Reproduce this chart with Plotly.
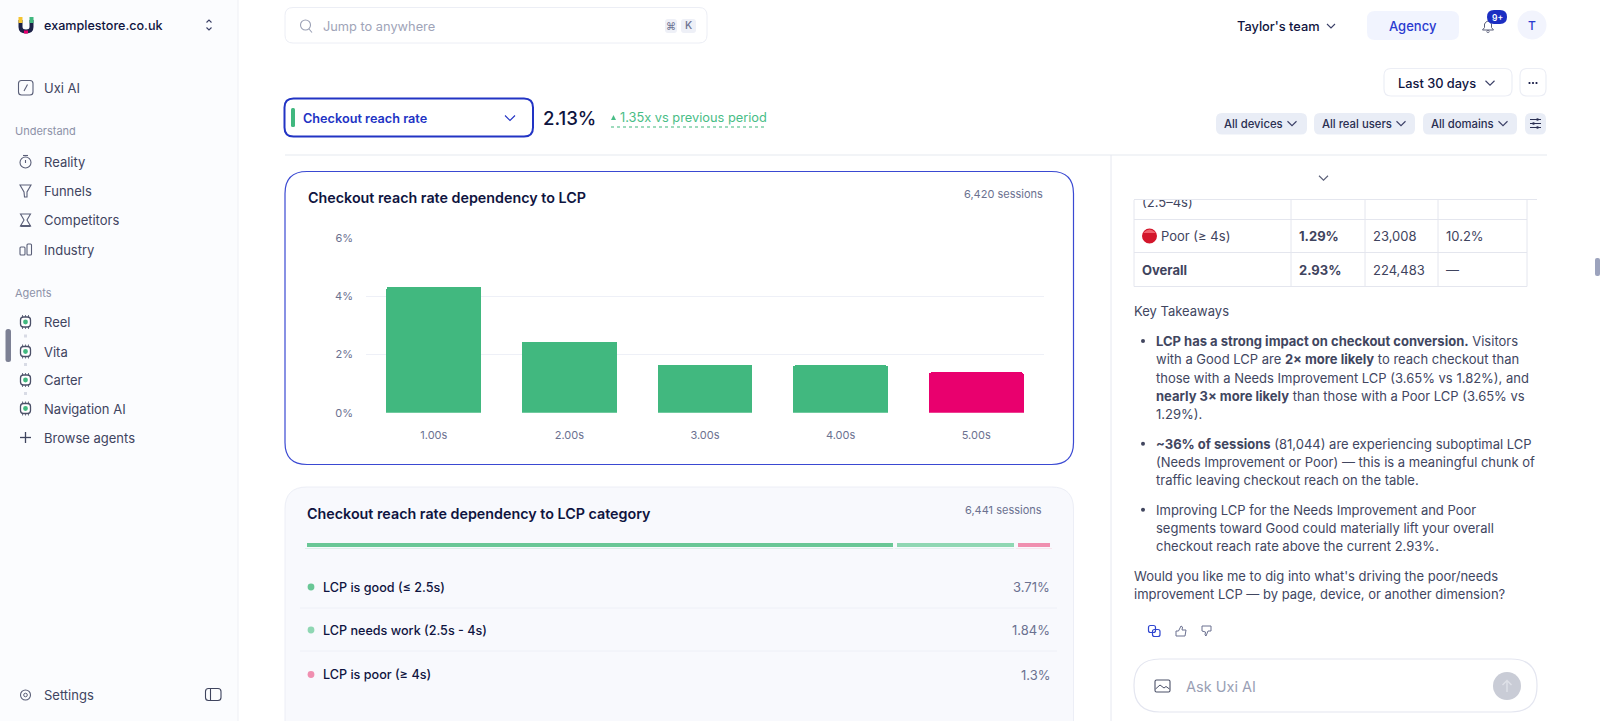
import plotly.graph_objects as go

# ---------- data ----------
lcp_seconds = ["1.00s", "2.00s", "3.00s", "4.00s", "5.00s"]
reach_rate = [4.31, 2.44, 1.64, 1.62, 1.38]
rate_ticks = [0, 2, 4, 6]
category_names = ["LCP is good (≤ 2.5s)", "LCP needs work (2.5s - 4s)", "LCP is poor (≥ 4s)"]
category_rates = ["3.71%", "1.84%", "1.3%"]
category_share = [79.0, 16.2, 4.8]

W, H = 1600, 721
FONT = "Inter"
NAVY = "#0f1440"
BODY = "#41465f"
MUTED = "#6b7190"
BLUE = "#2536c8"
GREEN = "#41b87f"
PINK = "#e9006e"
LINE = "#eceef5"

shapes, notes = [], []


def T(x, y, s, size=13, color=BODY, weight=400, anchor="left"):
    notes.append(dict(x=x, y=y, xref="x", yref="y", text=s, showarrow=False, xanchor=anchor,
                      yanchor="middle", align=anchor, borderpad=0, borderwidth=0,
                      font=dict(family=FONT, size=size, color=color, weight=weight)))


def rr(x0, y0, x1, y1, r):
    return (f"M{x0+r},{y0} L{x1-r},{y0} Q{x1},{y0} {x1},{y0+r} L{x1},{y1-r} Q{x1},{y1} {x1-r},{y1} "
            f"L{x0+r},{y1} Q{x0},{y1} {x0},{y1-r} L{x0},{y0+r} Q{x0},{y0} {x0+r},{y0} Z")


def P(path, fill="rgba(0,0,0,0)", stroke="rgba(0,0,0,0)", w=1.0, layer="below", dash=None):
    line = dict(color=stroke, width=w)
    if dash:
        line["dash"] = dash
    shapes.append(dict(type="path", path=path, xref="x", yref="y", fillcolor=fill, line=line, layer=layer))


def box(x0, y0, x1, y1, r, fill="rgba(0,0,0,0)", stroke="rgba(0,0,0,0)", w=1.0):
    P(rr(x0, y0, x1, y1, r), fill, stroke, w)


def L(x0, y0, x1, y1, c=LINE, w=1.0, layer="below", dash=None):
    line = dict(color=c, width=w)
    if dash:
        line["dash"] = dash
    shapes.append(dict(type="line", x0=x0, y0=y0, x1=x1, y1=y1, xref="x", yref="y", line=line, layer=layer))


def C(cx, cy, r, fill="rgba(0,0,0,0)", stroke="rgba(0,0,0,0)", w=1.0):
    shapes.append(dict(type="circle", x0=cx-r, y0=cy-r, x1=cx+r, y1=cy+r, xref="x", yref="y",
                       fillcolor=fill, line=dict(color=stroke, width=w), layer="below"))


def chev(cx, cy, s=4, c="#3a3f66", w=1.1):
    P(f"M{cx-s},{cy-s/2} L{cx},{cy+s/2} L{cx+s},{cy-s/2}", stroke=c, w=w)


# ---------- page backgrounds ----------
shapes.append(dict(type="rect", x0=0, y0=0, x1=238, y1=H, xref="x", yref="y", fillcolor="#fbfcfe",
                   line=dict(width=0), layer="below"))
L(238, 0, 238, H, "#eef0f5")

# ---------- sidebar ----------
ICON = "#5a5f78"
P("M20.5,20 L20.5,27 Q20.5,31.5 26,31.5 Q31.5,31.5 31.5,27 L31.5,20", stroke="#1c2147", w=4)
P("M20.5,17 L20.5,23", stroke="#f4c430", w=4)
P("M31.5,17 L31.5,23", stroke="#41b87f", w=4)
P("M24,32 L28,32", stroke="#e9006e", w=3)
T(44, 25.5, "examplestore.co.uk", 12.6, NAVY, 500)
P("M206.5,22.5 L209,20 L211.5,22.5 M206.5,27.5 L209,30 L211.5,27.5", stroke="#3a3f66", w=1.1)

box(18.5, 80.5, 33, 95, 3, stroke=ICON, w=1.1)
L(24, 91, 27.5, 84.5, ICON, 1.1)
T(44, 88, "Uxi AI", 13, "#3f445e", 400)
T(15, 131, "Understand", 11, "#8d92a8")
T(15, 292.5, "Agents", 11, "#8d92a8")

for y, s in [(161.5, "Reality"), (191, "Funnels"), (220, "Competitors"), (250, "Industry"),
             (322, "Reel"), (351.5, "Vita"), (380, "Carter"), (408.5, "Navigation AI"),
             (437.5, "Browse agents")]:
    T(44, y, s, 13, "#3f445e")

C(25.5, 162.5, 5.5, stroke=ICON, w=1.1)
L(23, 155.5, 28, 155.5, ICON, 1.1)
L(25.5, 160, 25.5, 163, ICON, 1.1)
P("M20,185 L31,185 L27,192 L27,197 L24.5,197 L24,192 Z", stroke=ICON, w=1.1)
P("M20.5,214 L30.5,214 L27,220 L30.5,226 L20.5,226 L24,220 Z", stroke=ICON, w=1.1)
L(20.5, 226, 30.5, 226, ICON, 2)
box(20, 247, 25, 255, 1, stroke=ICON, w=1.1)
box(27, 244, 31.5, 255, 1, stroke=ICON, w=1.1)
for y in (322, 351.5, 380, 408.5):
    box(20.5, y-5, 30.5, y+5, 3, fill="#ffffff", stroke="#4b5068", w=1.3)
    C(25.5, y, 2.4, fill="#41b87f")
    for dx_ in (-3, 0, 3):
        L(25.5+dx_, y-7, 25.5+dx_, y-5, "#4b5068", 0.8)
        L(25.5+dx_, y+5, 25.5+dx_, y+7, "#4b5068", 0.8)
for y in (336.5, 365, 394):
    L(25.5, y-2, 25.5, y+2, "#d8dbe5", 3, dash="dot")
L(20, 437.5, 31, 437.5, "#3f445e", 1.3)
L(25.5, 432, 25.5, 443, "#3f445e", 1.3)
box(5.5, 329, 11, 362, 2.5, fill="#7c8094")
C(25.5, 695, 5, stroke=ICON, w=1.1)
C(25.5, 695, 1.8, stroke=ICON, w=1)
T(44, 695, "Settings", 13, "#3f445e")
box(205.5, 688.5, 221, 700.5, 3, stroke="#3f445e", w=1.1)
L(210.5, 688.5, 210.5, 700.5, "#3f445e", 1.1)

# ---------- top bar ----------
box(285, 7.5, 707, 43, 8, fill="#ffffff", stroke=LINE, w=1)
C(305.5, 25, 5, stroke="#9aa0b5", w=1.1)
L(309, 29, 312, 32.5, "#9aa0b5", 1.1)
T(323, 26, "Jump to anywhere", 12.8, "#a0a4b8")
box(665, 19, 677, 33, 3, fill="#eef0f7")
box(681, 19, 696, 33, 3, fill="#eef0f7")
T(671, 25.5, "⌘", 10, "#6b7190", 400, "center")
T(688.5, 25.5, "K", 10.5, "#6b7190", 500, "center")
T(1237, 26, "Taylor's team", 12.8, NAVY, 500)
chev(1331, 26)
box(1367, 11, 1459, 40, 8, fill="#f1f4fe")
T(1413, 26, "Agency", 13, "#2a3ad0", 500, "center")
P("M1482.5,30 L1493.5,30 L1491.5,27.5 L1491.5,24 Q1488,18 1484.5,24 L1484.5,27.5 Z", stroke="#5a5f78", w=1)
C(1488, 31.5, 1.2, stroke="#5a5f78", w=0.8)
box(1487, 10, 1507, 24, 7, fill="#1c2fc2")
T(1497, 17.5, "9+", 8.5, "#ffffff", 600, "center")
C(1532, 25, 14.5, fill="#f2f4fd")
T(1532, 25, "T", 12, "#2a3ad0", 500, "center")

box(1384, 68.5, 1512, 96, 7, fill="#ffffff", stroke=LINE, w=1.2)
T(1398, 83, "Last 30 days", 12.8, NAVY, 500)
chev(1490, 83, 4.5)
box(1520, 68.5, 1546, 96, 7, fill="#ffffff", stroke=LINE, w=1.2)
for dx_ in (-3.5, 0, 3.5):
    C(1533+dx_, 83, 1.1, fill=NAVY)

for x0, x1, tx, cx, s in [(1216, 1307, 1224, 1292, "All devices"),
                          (1314, 1415, 1322, 1401, "All real users"),
                          (1423, 1517, 1431, 1503, "All domains")]:
    box(x0, 113, x1, 134.5, 6, fill="#e9edf6")
    T(tx, 123.5, s, 11.3, "#2a2f52", 500)
    chev(cx, 123.5, 4.5)
box(1525, 113, 1546, 134.5, 6, fill="#e9edf6")
for y, dx_ in ((119.5, 2), (123.5, -2), (127.5, 2)):
    L(1530, y, 1541, y, "#2a2f52", 1)
    C(1535.5+dx_, y, 1.3, fill="#2a2f52")

box(284.5, 98.5, 533, 136.5, 9, fill="#ffffff", stroke="#2234c4", w=2)
box(291, 108, 295, 127, 1.5, fill=GREEN)
T(303, 118, "Checkout reach rate", 12.7, "#2233c4", 600)
chev(510, 118, 5, "#2233c4")
T(543, 118, "2.13%", 18.6, NAVY, 500)
P("M611,120 L616,120 L613.5,115 Z", fill="#48bd86")
T(620, 117.5, "1.35x vs previous period", 12.8, "#48bd86", 400)
L(611, 127, 767, 127, "#7fd0a8", 1.4, dash="dot")

L(285, 155, 1547, 155, "#eef0f5", 1.5)
L(1111, 155, 1111, H, "#e6e8f0", 1)

# ---------- cards ----------
box(285, 171.5, 1073.5, 464.5, 22, fill="#ffffff", stroke="#3a49d2", w=1.2)
T(308, 197.5, "Checkout reach rate dependency to LCP", 14.3, NAVY, 600)
T(1043, 194, "6,420 sessions", 11, MUTED, 400, "right")

box(285, 487, 1073.5, 760, 22, fill="#f8f9fd", stroke="#eceef6", w=1)
T(307, 513.5, "Checkout reach rate dependency to LCP category", 14.3, NAVY, 600)
T(1042, 510, "6,441 sessions", 11, MUTED, 400, "right")
legend_colors = ["#69c796", "#8fd7b3", "#f08fb0"]
for y, name, rate, col in zip((587, 630, 674.5), category_names, category_rates, legend_colors):
    C(311, y, 3.4, fill=col)
    T(323, y, name, 12.6, NAVY, 500)
    T(1050, y, rate, 13, MUTED, 400, "right")
L(300, 608, 1057, 608, "#eef0f7")
L(300, 651, 1057, 651, "#eef0f7")

# ---------- right panel ----------
chev(1323.5, 178, 4.5, "#5a5f78")
for x in (1134, 1291, 1365, 1438, 1527):
    L(x, 200, x, 286.5, "#e4e6ee")
for y in (219.5, 252.5, 286.5):
    L(1134, y, 1527, y, "#e4e6ee")
C(1149.5, 236, 7.5, fill="#d3162b")
shapes.append(dict(type="path", path="M1143,233 Q1149.5,226 1156,233 Z", xref="x", yref="y",
                   fillcolor="#f0616d", line=dict(width=0), layer="below"))
T(1161, 236, "Poor (≥ 4s)", 13, "#3f445e")
T(1299, 236, "<b>1.29%</b>", 13, "#3f445e")
T(1373, 236, "23,008", 13, "#3f445e")
T(1446, 236, "10.2%", 13, "#3f445e")
T(1142, 270, "<b>Overall</b>", 13, "#3f445e")
T(1299, 270, "<b>2.93%</b>", 13, "#3f445e")
T(1373, 270, "224,483", 13, "#3f445e")
T(1446, 270, "—", 13, "#3f445e")

T(1134, 311, "Key Takeaways", 13, BODY)
bullet_lines = [
    (341, "<b>LCP has a strong impact on checkout conversion.</b> Visitors", True),
    (359.3, "with a Good LCP are <b>2× more likely</b> to reach checkout than", False),
    (377.7, "those with a Needs Improvement LCP (3.65% vs 1.82%), and", False),
    (396, "<b>nearly 3× more likely</b> than those with a Poor LCP (3.65% vs", False),
    (414.3, "1.29%).", False),
    (443.7, "<b>~36% of sessions</b> (81,044) are experiencing suboptimal LCP", True),
    (462, "(Needs Improvement or Poor) — this is a meaningful chunk of", False),
    (480.3, "traffic leaving checkout reach on the table.", False),
    (509.7, "Improving LCP for the Needs Improvement and Poor", True),
    (528, "segments toward Good could materially lift your overall", False),
    (546.3, "checkout reach rate above the current 2.93%.", False),
]
for y, s, bullet in bullet_lines:
    T(1155.7, y, s, 13, BODY)
    if bullet:
        C(1143, y, 2, fill=BODY)
T(1134, 575.7, "Would you like me to dig into what's driving the poor/needs", 13, BODY)
T(1134, 594, "improvement LCP — by page, device, or another dimension?", 13, BODY)

box(1148.5, 625.5, 1155.5, 632.5, 2, stroke="#2f45d0", w=1.2)
box(1152.5, 629.5, 1160, 636.5, 2, stroke="#2f45d0", w=1.2)
P("M1176,631 L1178.5,631 L1181,626 L1182.5,627 L1182,630 L1186,630 L1185,636 L1176,636 Z", stroke="#6b7190", w=1)
P("M1202,626 L1211,626 L1211,631 L1208,631 L1206,636 L1205,635 L1205.5,632 L1202,631 Z", stroke="#6b7190", w=1)

box(1134, 659, 1537, 712, 26, fill="#ffffff", stroke="#e4e6f0", w=1.2)
box(1155, 680, 1170, 692, 1.5, stroke="#4b5068", w=1.1)
P("M1155.5,689 L1160,685 L1164,688 L1166,686.5 L1169.5,689", stroke="#4b5068", w=1)
T(1186, 686, "Ask Uxi AI", 14.5, "#9a9fb5")
C(1507, 686, 14, fill="#c9ccd6")
P("M1507,692 L1507,680.5 M1502.5,685 L1507,680.5 L1511.5,685", stroke="#dfe1e8", w=1.4)
box(1595, 258, 1600, 276, 2, fill="#9ca3bd")

# ---------- figure ----------
fig = go.Figure()

# clipped first line of the table, covered above y=199.5 like the scrolled original
fig.add_trace(go.Scatter(x=[1142], y=[204], text=["(2.5–4s)"], mode="text", textposition="middle right",
                         textfont=dict(family=FONT, size=13, color="#3f445e"), xaxis="x", yaxis="y",
                         hoverinfo="skip", showlegend=False))
shapes.append(dict(type="rect", x0=1130, y0=186, x1=1540, y1=199, xref="x", yref="y", fillcolor="#ffffff",
                   line=dict(width=0), layer="above"))
shapes.append(dict(type="line", x0=1134, y0=199.5, x1=1537, y1=199.5, xref="x", yref="y",
                   line=dict(color="#e4e6ee", width=1.2), layer="above"))

fig.add_trace(go.Bar(x=lcp_seconds, y=reach_rate, xaxis="x2", yaxis="y2", width=0.7, showlegend=False,
                     marker=dict(color=[GREEN, GREEN, GREEN, GREEN, PINK], cornerradius=2, line=dict(width=0)),
                     hoverinfo="skip"))

for share, col in zip(category_share, legend_colors):
    fig.add_trace(go.Bar(x=[share], y=["share"], orientation="h", xaxis="x3", yaxis="y3", showlegend=False,
                         width=1, marker=dict(color=col, line=dict(color="#f8f9fd", width=4)),
                         hoverinfo="skip"))


def dx(a, b):
    return [a / W, b / W]


def dy(top, bottom):
    return [(H - bottom) / H, (H - top) / H]


hidden = dict(visible=False, fixedrange=True, showgrid=False, zeroline=False, automargin=False)
fig.update_layout(
    template="none",
    width=W, height=H, margin=dict(l=0, r=0, t=0, b=0, pad=0, autoexpand=False), autosize=False,
    paper_bgcolor="#ffffff", plot_bgcolor="rgba(0,0,0,0)", showlegend=False, hovermode=False,
    dragmode=False, barmode="stack", font=dict(family=FONT),
    shapes=shapes, annotations=notes,
    xaxis=dict(domain=[0, 1], range=[0, W], anchor="y", **hidden),
    yaxis=dict(domain=[0, 1], range=[H, 0], anchor="x", **hidden),
    xaxis2=dict(domain=dx(366, 1044), anchor="y2", type="category", categoryorder="array",
                categoryarray=lcp_seconds, range=[-0.5, 4.5], fixedrange=True, showgrid=False,
                zeroline=False, showline=False, ticks="", ticklabelstandoff=14, automargin=False,
                tickfont=dict(family=FONT, size=11, color=MUTED)),
    yaxis2=dict(domain=dy(237.8, 412.7), anchor="x2", range=[0, 6], fixedrange=True, tickvals=rate_ticks,
                ticktext=[f"{v}%" for v in rate_ticks], gridcolor="#eef0f7", gridwidth=1, zeroline=False,
                showline=False, ticks="", ticklabelstandoff=12, automargin=False,
                tickfont=dict(family=FONT, size=11, color=MUTED)),
    xaxis3=dict(domain=dx(305, 1052), anchor="y3", range=[0, sum(category_share)], **hidden),
    yaxis3=dict(domain=dy(541, 548.8), anchor="x3", type="category", range=[-0.5, 0.5], **hidden),
)

fig.write_html("out.html", config=dict(displayModeBar=False, staticPlot=True),
               post_script="document.body.style.margin='0';document.body.style.overflow='hidden';"
                           "document.documentElement.style.overflow='hidden';")
